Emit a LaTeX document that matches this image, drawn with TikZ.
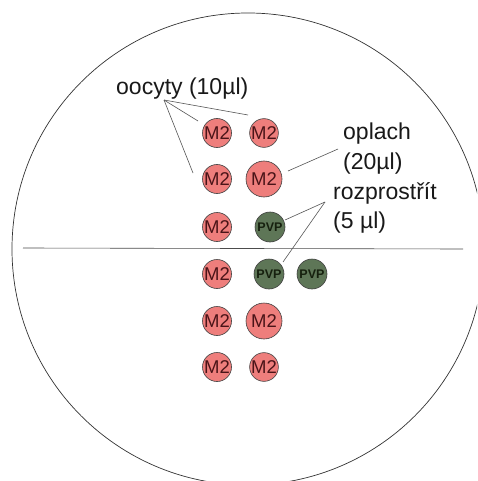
\documentclass[tikz,border=0pt]{standalone}
\usepackage{fontspec}
\setmainfont{Liberation Sans}
\definecolor{pinkfill}{HTML}{EE7E7C}
\definecolor{pinktext}{HTML}{4A1418}
\definecolor{greenfill}{HTML}{5E7657}
\definecolor{greentext}{HTML}{16200E}
\definecolor{linegray}{HTML}{555555}
\begin{document}
\begin{tikzpicture}[x=1pt,y=-1pt,
  drop/.style={circle,draw=black!75,line width=0.6pt,inner sep=0pt,minimum size=#1},
  mtwo/.style={drop=#1,fill=pinkfill,text=pinktext,font=\fontsize{18.5}{18}\selectfont},
  pvp/.style={drop=30pt,fill=greenfill,text=greentext,font=\fontsize{12.5}{12}\bfseries\selectfont},
  lab/.style={font=\fontsize{23}{29}\selectfont,align=left,inner sep=0pt,text=black!90},
  lead/.style={draw=linegray,line width=0.6pt}]
\useasboundingbox (0,0) rectangle (477,481);
\clip (0,0) rectangle (477,481);
\fill[white] (0,0) rectangle (477,481);
\draw[black!80,line width=0.7pt] (248,249) circle (236);
\draw[black!70,line width=0.6pt] (23,248) -- (463,249);
% column 1
\node[mtwo=29pt] (a1) at (217,133) {M2};
\node[mtwo=29pt] (a2) at (217,179) {M2};
\node[mtwo=29pt] (a3) at (217,227) {M2};
\node[mtwo=29pt] (a4) at (217,274) {M2};
\node[mtwo=29pt] (a5) at (217,321) {M2};
\node[mtwo=29pt] (a6) at (217,367) {M2};
% column 2
\node[mtwo=28pt] (b1) at (264,133) {M2};
\node[mtwo=36pt] (b2) at (264,179) {M2};
\node[pvp] (b3) at (270,227) {PVP};
\node[pvp] (b4) at (269,274) {PVP};
\node[mtwo=36pt] (b5) at (264,321) {M2};
\node[mtwo=28pt] (b6) at (264,367) {M2};
% column 3
\node[pvp] (c4) at (312,274) {PVP};
% labels
\node[lab,anchor=base west] (oo) at (116,95) {oocyty (10µl)};
\node[lab,anchor=base west] (op) at (343,169) {oplach\\(20µl)};
\node[lab,anchor=base west] (ro) at (333,228) {rozprostřít\\(5 µl)};
\coordinate (ooS) at (164,100);
\coordinate (ooE1) at (198,121);
\coordinate (ooE2) at (248,115);
\coordinate (ooE3) at (193,173);
\coordinate (opS) at (338,149);
\coordinate (opE) at (288,171);
\coordinate (roS) at (325,202);
\coordinate (roE1) at (285,220);
\coordinate (roE2) at (283,262);
\draw[lead] (ooS) -- (ooE1);
\draw[lead] (ooS) -- (ooE2);
\draw[lead] (ooS) -- (ooE3);
\draw[lead] (opS) -- (opE);
\draw[lead] (roS) -- (roE1);
\draw[lead] (roS) -- (roE2);
\end{tikzpicture}
\end{document}
